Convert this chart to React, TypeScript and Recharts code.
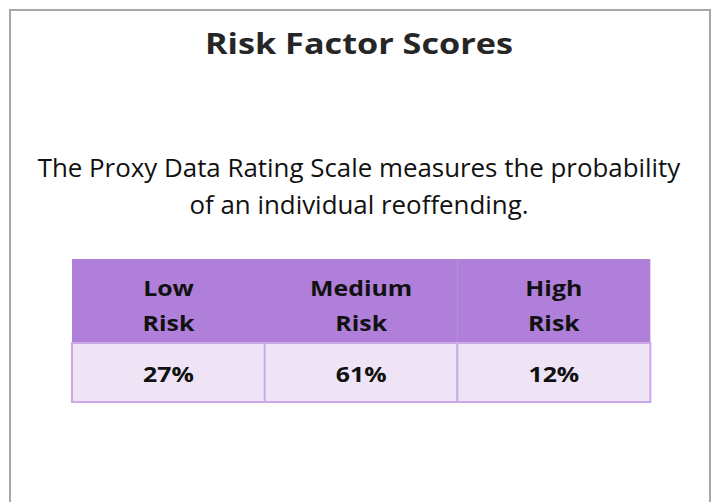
import { BarChart, Bar, XAxis, YAxis } from 'recharts';

// Risk level columns and their share of individuals
const riskLevels = ['Low Risk', 'Medium Risk', 'High Risk'];
const shares = [27, 61, 12];

const title = 'Risk Factor Scores';
const subtitleLines = [
  'The Proxy Data Rating Scale measures the probability',
  'of an individual reoffending.',
];

const FONT = '"Open Sans", Lato, sans-serif';
const HEADER_TOP = 259;
const HEADER_BOTTOM = 343;
const ROW_BOTTOM = 402;
// the source font is wider than Open Sans, so stretch the glyphs a little
const CELL_STRETCH = 1.13;

const data = riskLevels.map((level, i) => ({ level, share: shares[i] }));

function CellText({ cx, y, children }: { cx: number; y: number; children: any }) {
  return (
    <text
      transform={`translate(${cx},${y}) scale(${CELL_STRETCH},1)`}
      textAnchor="middle"
      fontFamily={FONT}
      fontWeight={700}
      fontSize={22}
      fill="#111"
    >
      {children}
    </text>
  );
}

function TableColumn(props: any) {
  const { x, width, payload } = props;
  const cx = x + width / 2;
  const [first, second] = String(payload.level).split(' ');
  return (
    <g>
      <rect x={x} y={HEADER_TOP} width={width} height={HEADER_BOTTOM - HEADER_TOP} fill="#AF7FD9" />
      <rect
        x={x}
        y={HEADER_BOTTOM}
        width={width}
        height={ROW_BOTTOM - HEADER_BOTTOM}
        fill="#EEE4F6"
        stroke="#C9A9E8"
        strokeWidth={2}
      />
      <CellText cx={cx} y={296}>{first}</CellText>
      <CellText cx={cx} y={331}>{second}</CellText>
      <CellText cx={cx} y={382}>{payload.share}%</CellText>
    </g>
  );
}

export default function App() {
  return (
    <div style={{ position: 'absolute', left: 0, top: 0, width: 718, height: 502, overflow: 'hidden', background: '#fff' }}>
      <div
        style={{
          position: 'absolute',
          left: 9,
          top: 9,
          width: 702,
          height: 520,
          boxSizing: 'border-box',
          border: '2px solid #A6A6A6',
          borderBottom: 'none',
        }}
      />
      <div
        style={{
          position: 'absolute',
          left: 0,
          top: 24,
          width: 718,
          textAlign: 'center',
          fontFamily: FONT,
          fontWeight: 700,
          fontSize: 29,
          lineHeight: '38px',
          color: '#262626',
          transform: 'scaleX(1.18)',
        }}
      >
        {title}
      </div>
      <div
        style={{
          position: 'absolute',
          left: 0,
          top: 149,
          width: 718,
          textAlign: 'center',
          fontFamily: FONT,
          fontSize: 25,
          lineHeight: '37px',
          color: '#111',
          transform: 'scaleX(1.035)',
        }}
      >
        {subtitleLines.map((l) => (
          <div key={l}>{l}</div>
        ))}
      </div>
      <div style={{ position: 'absolute', left: 0, top: 0 }}>
        <BarChart
          width={718}
          height={502}
          data={data}
          margin={{ top: HEADER_TOP, right: 68, bottom: 502 - ROW_BOTTOM, left: 72 }}
          barCategoryGap={0}
        >
          <XAxis dataKey="level" hide />
          <YAxis hide domain={[0, 100]} />
          <Bar dataKey="share" shape={<TableColumn />} isAnimationActive={false} />
        </BarChart>
      </div>
    </div>
  );
}
